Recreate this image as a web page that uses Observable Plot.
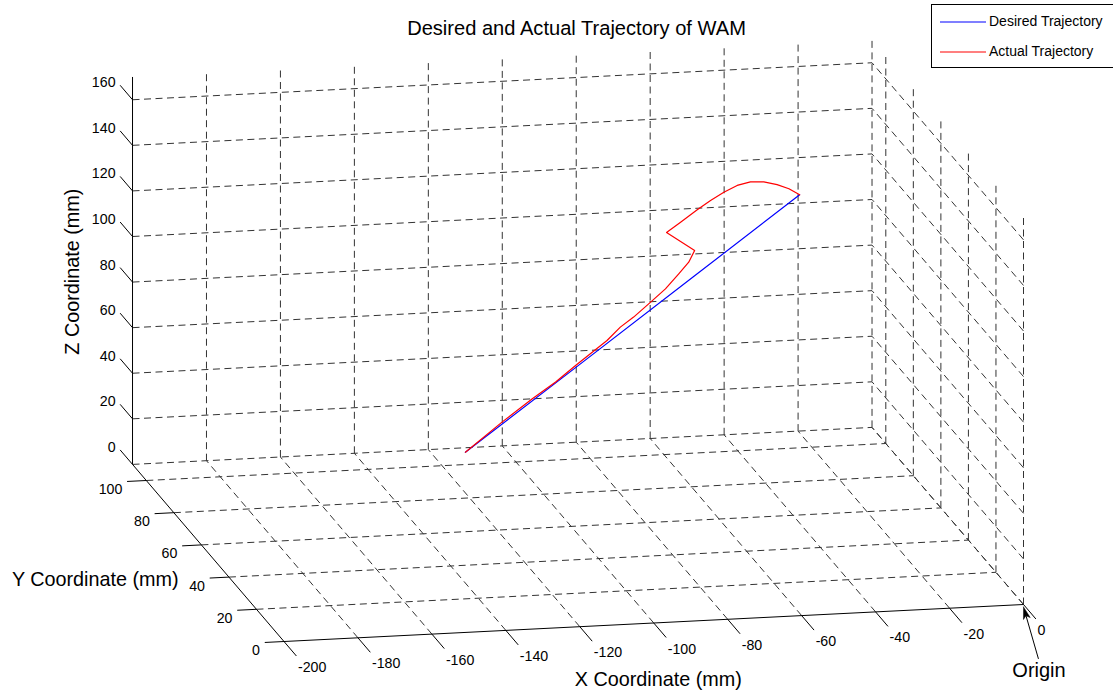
<!DOCTYPE html>
<html>
<head>
<meta charset="utf-8">
<script src="https://cdn.jsdelivr.net/npm/d3@7"></script>
<script src="https://cdn.jsdelivr.net/npm/@observablehq/plot@0.6"></script>
<style>
  html, body { margin: 0; padding: 0; background: #fff; overflow: hidden; }
  #wrap { position: relative; width: 1113px; height: 696px; font-family: "Liberation Sans", Arial, Helvetica, sans-serif; }
  #legend { position: absolute; left: 931px; top: 4px; width: 190px; height: 64px; border: 1px solid #000; background: #fff; box-sizing: border-box; }
  #legend svg { position: absolute; left: 8px; width: 46px; height: 4px; overflow: visible; }
  #legend .lb { position: absolute; left: 57px; font-size: 14px; line-height: 16px; color: #000; white-space: nowrap; }
</style>
</head>
<body>
<div id="wrap"></div>
<script>
// ---------------- data ----------------
const xTicks = [-200, -180, -160, -140, -120, -100, -80, -60, -40, -20, 0];
const yTicks = [0, 20, 40, 60, 80, 100];
const zTicks = [0, 20, 40, 60, 80, 100, 120, 140, 160];
const xLimits = [-200, 0];
const yLimits = [0, 110];
const zLimits = [0, 170];

const seriesNames = ["Desired Trajectory", "Actual Trajectory"];
const seriesColors = ["#0000ff", "#ff0000"];

// desired trajectory (mm)
const desiredX = [-113.7, -83.9, -51.7, -23.3];
const desiredY = [100, 100, 100, 100];
const desiredZ = [5.4, 40.1, 77.8, 111.0];

// actual trajectory (mm)
const actualX = [-113.7, -103.8, -95.6, -89.3, -83.9, -79.4, -75.4, -71.8, -68.2, -63.6, -59.6, -56.0, -53.3, -51.7,
                 -59.3, -55.5, -51.0, -47.4, -43.8, -40.2, -36.6, -33.0, -29.4, -26.2, -23.3];
const actualY = [100, 100, 100, 100, 100, 100, 100, 100, 100, 100, 100, 100, 100, 100,
                 100, 100, 100, 100, 100, 100, 100, 100, 100, 100, 100];
const actualZ = [5.4, 17.8, 27.4, 34.2, 41.0, 46.5, 51.3, 56.9, 61.0, 67.2, 72.7, 79.0, 83.9, 88.9,
                 97.4, 101.6, 106.7, 110.5, 113.8, 116.5, 117.8, 117.5, 116.0, 113.9, 111.0];

const titleText = "Desired and Actual Trajectory of WAM";
const xLabel = "X Coordinate (mm)";
const yLabel = "Y Coordinate (mm)";
const zLabel = "Z Coordinate (mm)";
const originText = "Origin";

// ---------------- 3D view (orthographic projection) ----------------
const ex = [3.6975, 0.185], ey = [-1.377, 1.61], ez = [0, 2.279];
function proj(x, y, z) {
  return {u: x * ex[0] + y * ey[0] + z * ez[0], v: x * ex[1] + y * ey[1] + z * ez[1]};
}
function seg(a, b) {
  const p = proj(...a), q = proj(...b);
  return {x1: p.u, y1: p.v, x2: q.u, y2: q.v};
}

const [X0, X1] = xLimits, [Y0, Y1] = yLimits, [Z0, Z1] = zLimits;

// grid segments on the three back planes
const grid = [];
for (const x of xTicks) if (x !== X0) grid.push(seg([x, Y0, Z0], [x, Y1, Z0]));
for (const y of yTicks) if (y !== Y0) grid.push(seg([X0, y, Z0], [X1, y, Z0]));
for (const x of xTicks) if (x !== X0) grid.push(seg([x, Y1, Z0], [x, Y1, Z1]));
for (const z of zTicks) grid.push(seg([X0, Y1, z], [X1, Y1, z]));
for (const y of yTicks) grid.push(seg([X1, y, Z0], [X1, y, Z1]));
for (const z of zTicks) grid.push(seg([X1, Y0, z], [X1, Y1, z]));

// axis lines
const axes = [
  seg([X0, Y0, Z0], [X1, Y0, Z0]),
  seg([X0, Y0, Z0], [X0, Y1, Z0]),
  seg([X0, Y1, Z0], [X0, Y1, Z1])
];
// ticks
const ticks = [];
for (const x of xTicks) ticks.push(seg([x, Y0, Z0], [x, Y0 - 9, Z0]));
for (const y of yTicks) ticks.push(seg([X0, y, Z0], [X0 - 5.2, y, Z0]));
for (const z of zTicks) ticks.push(seg([X0, Y1, z], [X0, Y1 + 9, z]));

// trajectories
const desired = desiredX.map((x, i) => ({...proj(x, desiredY[i], desiredZ[i]), s: seriesNames[0]}));
const actual = actualX.map((x, i) => ({...proj(x, actualY[i], actualZ[i]), s: seriesNames[1]}));

// origin annotation arrow (screen-direction vectors in u/v units)
const O = proj(0, 0, 0);
const dir = [0.277, -0.961], perp = [-0.961, -0.277];
const T = [O.u, O.v - 2.5];
const B = [T[0] + 12 * dir[0], T[1] + 12 * dir[1]];
const N = [T[0] + 9 * dir[0], T[1] + 9 * dir[1]];
const head = [T, [B[0] + 3.5 * perp[0], B[1] + 3.5 * perp[1]], N, [B[0] - 3.5 * perp[0], B[1] - 3.5 * perp[1]], T];
const tail = [T[0] + 54 * dir[0], T[1] + 54 * dir[1]];

const textXY = (f) => ({x: d => f(d).u, y: d => f(d).v});

const plot = Plot.plot({
  width: 1113,
  height: 696,
  margin: 0,
  x: {domain: [-1023, 90], axis: null},
  y: {domain: [-92, 604], axis: null},
  style: {fontFamily: "'Liberation Sans', Arial, Helvetica, sans-serif", background: "white", overflow: "visible"},
  marks: [
    Plot.link(grid, {x1: "x1", y1: "y1", x2: "x2", y2: "y2", stroke: "#333", strokeWidth: 1, strokeDasharray: "7,4.5"}),
    Plot.link(axes, {x1: "x1", y1: "y1", x2: "x2", y2: "y2", stroke: "#000", strokeWidth: 1}),
    Plot.link(ticks, {x1: "x1", y1: "y1", x2: "x2", y2: "y2", stroke: "#000", strokeWidth: 1}),
    Plot.text(xTicks, {...textXY(d => proj(d, Y0, Z0)), text: d => String(d), textAnchor: "start", dx: 14, dy: 26, fontSize: 14.2, fill: "#000"}),
    Plot.text(yTicks, {...textXY(d => proj(X0, d, Z0)), text: d => String(d), textAnchor: "end", dx: -24, dy: 9, fontSize: 14.2, fill: "#000"}),
    Plot.text(zTicks, {...textXY(d => proj(X0, Y1, d)), text: d => String(d), textAnchor: "end", dx: -17, dy: -17, fontSize: 14.2, fill: "#000"}),
    Plot.line(desired, {x: "u", y: "v", stroke: seriesColors[0], strokeWidth: 1.2}),
    Plot.line(actual, {x: "u", y: "v", stroke: seriesColors[1], strokeWidth: 1.2}),
    Plot.text([xLabel], {...textXY(() => proj((X0 + X1) / 2, Y0, Z0)), text: d => d, dx: 4.5, dy: 56.5, fontSize: 19.8, fill: "#000"}),
    Plot.text([yLabel], {...textXY(() => proj(X0, 55, Z0)), text: d => d, dx: -113, dy: 26.5, fontSize: 19.8, fill: "#000"}),
    Plot.text([zLabel], {...textXY(() => proj(X0, Y1, 85)), text: d => d, rotate: -90, dx: -59.5, dy: 1, fontSize: 19.8, fill: "#000"}),
    Plot.text([titleText], {frameAnchor: "top", text: d => d, dx: 19.5, dy: 20, fontSize: 20.1, fill: "#000"}),
    Plot.link([0], {x1: () => N[0], y1: () => N[1], x2: () => tail[0], y2: () => tail[1], stroke: "#000", strokeWidth: 1}),
    Plot.line(head, {x: d => d[0], y: d => d[1], fill: "#000", stroke: "#000", strokeWidth: 0.5}),
    Plot.text([originText], {x: () => O.u, y: () => O.v, text: d => d, dx: 15.5, dy: 66, fontSize: 20, fill: "#000"})
  ]
});

const wrap = document.getElementById("wrap");
wrap.appendChild(plot);

// legend
const NS = "http://www.w3.org/2000/svg";
const legend = document.createElement("div");
legend.id = "legend";
seriesNames.forEach((name, i) => {
  const sw = document.createElementNS(NS, "svg");
  sw.setAttribute("width", "46");
  sw.setAttribute("height", "4");
  sw.style.top = (14.5 + 30 * i) + "px";
  const ln = document.createElementNS(NS, "line");
  ln.setAttribute("x1", "0"); ln.setAttribute("x2", "46");
  ln.setAttribute("y1", "2"); ln.setAttribute("y2", "2");
  ln.setAttribute("stroke", seriesColors[i]);
  ln.setAttribute("stroke-width", "1.2");
  sw.appendChild(ln);
  const lb = document.createElement("div");
  lb.className = "lb";
  lb.style.top = (8 + 30 * i) + "px";
  lb.textContent = name;
  legend.appendChild(sw);
  legend.appendChild(lb);
});
wrap.appendChild(legend);
</script>
</body>
</html>
